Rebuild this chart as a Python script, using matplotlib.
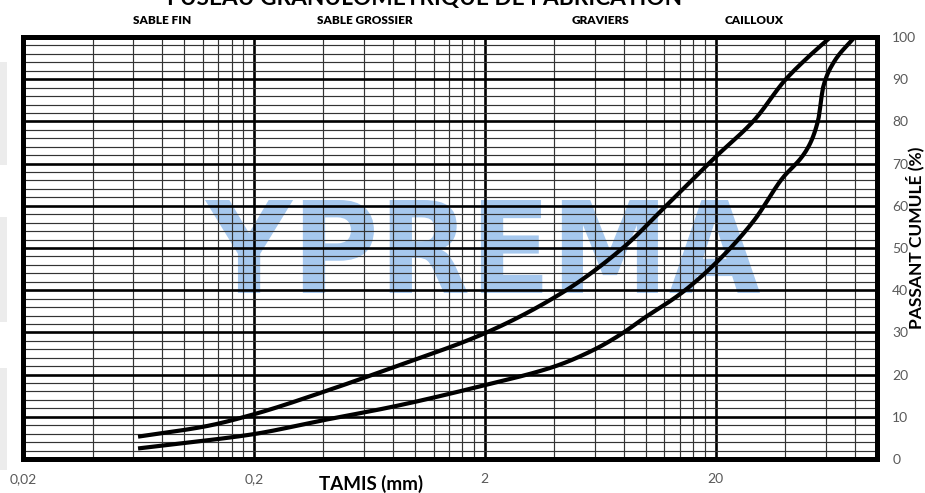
import numpy as np
import matplotlib
matplotlib.use('Agg')
import matplotlib.pyplot as plt
from matplotlib.ticker import FixedLocator, MultipleLocator, NullFormatter
from matplotlib.textpath import TextPath
from matplotlib.patches import PathPatch, Rectangle
from matplotlib.font_manager import FontProperties
from matplotlib.transforms import Affine2D

# ---------------- data ----------------
title = "FUSEAU GRANULOMÉTRIQUE DE FABRICATION"
zones = ["SABLE FIN", "SABLE GROSSIER", "GRAVIERS", "CAILLOUX"]
x_ticks = [0.02, 0.2, 2, 20]
x_ticklabels = ["0,02", "0,2", "2", "20"]
y_ticks = [0, 10, 20, 30, 40, 50, 60, 70, 80, 90, 100]
xlabel = "TAMIS (mm)"
ylabel = "PASSANT CUMULÉ (%)"
watermark = "YPREMA"

upper_x = [0.063, 0.125, 0.2, 0.4, 0.8, 2, 4.3, 8, 12, 20, 29.4, 40, 50, 63]
upper_y = [5.3, 7.8, 10.6, 15.9, 21.7, 29.8, 39.3, 50.2, 59.6, 71.6, 80.3, 89.8, 95.1, 100]

lower_x = [0.063, 0.125, 0.2, 0.4, 0.8, 2, 4, 6, 8, 9.5, 14.2, 20, 29.4, 38.4, 50, 55.6, 58.5, 64.6, 80]
lower_y = [2.5, 4.4, 5.9, 9.2, 12.4, 17.5, 21.9, 26.0, 30.0, 32.9, 39.3, 46.4, 56.6, 66.1, 73.6, 80.3, 88.2, 93.8, 100]

# ---------------- helpers ----------------
def pchip(x, y, xn):
    x = np.asarray(x, float); y = np.asarray(y, float)
    h = np.diff(x); d = np.diff(y) / h
    n = len(x); m = np.zeros(n)
    for k in range(1, n - 1):
        if d[k - 1] * d[k] > 0:
            w1 = 2 * h[k] + h[k - 1]; w2 = h[k] + 2 * h[k - 1]
            m[k] = (w1 + w2) / (w1 / d[k - 1] + w2 / d[k])
    m[0] = d[0]; m[-1] = d[-1]
    idx = np.clip(np.searchsorted(x, xn) - 1, 0, n - 2)
    t = (xn - x[idx]) / h[idx]
    h00 = 2 * t**3 - 3 * t**2 + 1; h10 = t**3 - 2 * t**2 + t
    h01 = -2 * t**3 + 3 * t**2; h11 = t**3 - t**2
    return h00 * y[idx] + h10 * h[idx] * m[idx] + h01 * y[idx + 1] + h11 * h[idx] * m[idx + 1]

def smooth(xs, ys):
    lx = np.log10(xs)
    ln = np.linspace(lx[0], lx[-1], 500)
    return 10**ln, pchip(lx, ys, ln)

# ---------------- figure ----------------
W, H = 925, 493
plt.rcParams['font.family'] = ['Lato', 'DejaVu Sans']
fig = plt.figure(figsize=(W / 100, H / 100), dpi=100)

# faint grey bars at left edge (screenshot residue)
for y0, y1 in [(62, 165), (217, 322), (368, 470)]:
    fig.patches.append(Rectangle((0, 1 - y1 / H), 7 / W, (y1 - y0) / H,
                                 transform=fig.transFigure, fc='#ececec', ec='none'))

ax = fig.add_axes([23 / W, 1 - 459 / H, (877 - 23) / W, (459 - 37) / H])
ax.set_xscale('log')
ax.set_xlim(0.02, 100)
ax.set_ylim(0, 100)

minor_x = [b * k for b in x_ticks for k in range(2, 10) if b * k < 100]
ax.xaxis.set_major_locator(FixedLocator(x_ticks))
ax.xaxis.set_minor_locator(FixedLocator(minor_x))
ax.xaxis.set_minor_formatter(NullFormatter())
ax.set_xticklabels(x_ticklabels)
ax.yaxis.set_major_locator(FixedLocator(y_ticks))
ax.yaxis.set_minor_locator(MultipleLocator(2))
ax.yaxis.tick_right()

ax.grid(which='major', color='black', lw=1.9, zorder=1.5)
ax.grid(which='minor', color='#333333', lw=0.85, zorder=1.4)
ax.tick_params(which='both', length=0)
ax.tick_params(axis='x', pad=10, labelsize=10, labelcolor='#595959')
ax.tick_params(axis='y', pad=11, labelsize=10, labelcolor='#595959')

for sp in ax.spines.values():
    sp.set_linewidth(3.6)
    sp.set_color('black')
    sp.set_zorder(5)

# watermark
tp = TextPath((0, 0), watermark, size=1, prop=FontProperties(family='DejaVu Sans', weight='bold'))
ext = tp.get_extents()
x0, x1 = 205 / W, 760 / W
y0, y1 = 1 - 293 / H, 1 - 200 / H
tr = Affine2D().translate(-ext.x0, -ext.y0).scale((x1 - x0) / ext.width, (y1 - y0) / ext.height).translate(x0, y0)
ax.add_patch(PathPatch(tr.transform_path(tp), transform=fig.transFigure,
                       fc='#a6c8ee', ec='none', zorder=0.5))

# curves
for xs, ys in [(upper_x, upper_y), (lower_x, lower_y)]:
    sx, sy = smooth(xs, ys)
    ax.plot(sx, sy, color='black', lw=3.0, solid_capstyle='butt', zorder=3)

# texts
fig.text(425 / W, 1 - 5 / H, title, ha='center', va='baseline', fontsize=16.3, weight='bold')
for name, xp in zip(zones, [162, 365, 600, 754]):
    fig.text(xp / W, 1 - 21 / H, name, ha='center', va='center', fontsize=8.5, weight='heavy')
fig.text(371 / W, 1 - 484 / H, xlabel, ha='center', va='center', fontsize=13.5, weight='bold')
fig.text(915 / W, 1 - 238 / H, ylabel, rotation=90, ha='center', va='center', fontsize=12.5, weight='bold')

fig.savefig('out.png', dpi=100)
